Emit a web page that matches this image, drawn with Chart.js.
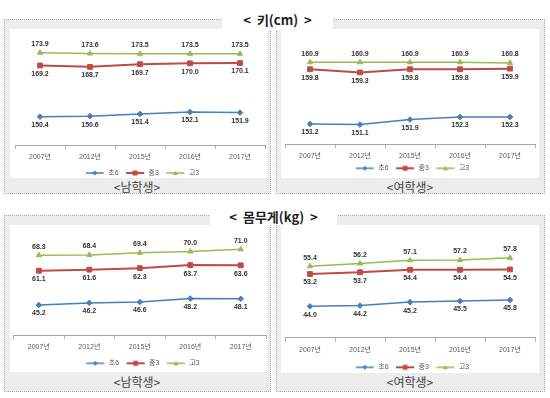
<!DOCTYPE html>
<html>
<head>
<meta charset="utf-8">
<script src="https://cdn.jsdelivr.net/npm/chart.js@4.4.0/dist/chart.umd.min.js"></script>
<style>
body{margin:0;width:550px;height:398px;background:#fff;position:relative;overflow:hidden;font-family:"Noto Sans CJK KR",sans-serif;}
.panel{position:absolute;box-sizing:border-box;border:1px dotted #a9a9a9;background:#ededed;}
.inner{position:absolute;background:#fff;}
.cap{position:absolute;width:200px;text-align:center;font-size:12px;line-height:14px;color:#404040;}
.title{position:absolute;background:#fff;text-align:center;font-weight:bold;font-size:13px;color:#222;}
canvas{position:absolute;}
</style>
</head>
<body>
<!-- panels -->
<div class="panel" style="left:4px;top:19px;width:267px;height:175px"></div>
<div class="inner" style="left:10px;top:29px;width:258px;height:149px"></div>
<div class="cap" style="left:37px;top:180px">&lt;남학생&gt;</div>

<div class="panel" style="left:276px;top:19px;width:269px;height:175px"></div>
<div class="inner" style="left:281px;top:29px;width:258px;height:149px"></div>
<div class="cap" style="left:310px;top:180px">&lt;여학생&gt;</div>

<div class="panel" style="left:4px;top:215px;width:267px;height:177px"></div>
<div class="inner" style="left:10px;top:225px;width:258px;height:147px"></div>
<div class="cap" style="left:37px;top:375px">&lt;남학생&gt;</div>

<div class="panel" style="left:276px;top:215px;width:269px;height:177px"></div>
<div class="inner" style="left:281px;top:225px;width:258px;height:148px"></div>
<div class="cap" style="left:310px;top:375px">&lt;여학생&gt;</div>

<div class="title" style="left:222px;top:8px;width:111px;height:22px;line-height:24px">&lt;&nbsp; 키(cm)&nbsp; &gt;</div>
<div class="title" style="left:210px;top:205px;width:127px;height:20px;line-height:24px">&lt;&nbsp; 몸무게(kg)&nbsp; &gt;</div>

<canvas id="c1" width="267" height="175" style="left:4px;top:19px"></canvas>
<canvas id="c2" width="269" height="175" style="left:276px;top:19px"></canvas>
<canvas id="c3" width="267" height="177" style="left:4px;top:215px"></canvas>
<canvas id="c4" width="269" height="177" style="left:276px;top:215px"></canvas>

<script>
// ---- data ----
const years = ['2007년', '2012년', '2015년', '2016년', '2017년'];
const seriesNames = ['초6', '중3', '고3'];

const boysHeightElem = [150.4, 150.6, 151.4, 152.1, 151.9];
const boysHeightMid = [169.2, 168.7, 169.7, 170.0, 170.1];
const boysHeightHigh = [173.9, 173.6, 173.5, 173.5, 173.5];

const girlsHeightElem = [151.2, 151.1, 151.9, 152.3, 152.3];
const girlsHeightMid = [159.8, 159.3, 159.8, 159.8, 159.9];
const girlsHeightHigh = [160.9, 160.9, 160.9, 160.9, 160.8];

const boysWeightElem = [45.2, 46.2, 46.6, 48.2, 48.1];
const boysWeightMid = [61.1, 61.6, 62.3, 63.7, 63.6];
const boysWeightHigh = [68.3, 68.4, 69.4, 70.0, 71.0];

const girlsWeightElem = [44.0, 44.2, 45.2, 45.5, 45.8];
const girlsWeightMid = [53.2, 53.7, 54.4, 54.4, 54.5];
const girlsWeightHigh = [55.4, 56.2, 57.1, 57.2, 57.8];

// ---- styles ----
const colors = ['#4a7ebb', '#be4b48', '#98b954'];
const markers = ['rectRot', 'rect', 'triangle'];
const markerSize = [2.8, 3.4, 3];
const lineWidths = [1.5, 2, 1.5];
const labelSide = ['below', 'below', 'above'];
const numFont = '"Liberation Sans", "Noto Sans CJK KR", sans-serif';

// small legend icon: line with marker in the middle
function legendIcon(i) {
    const c = document.createElement('canvas');
    c.width = 24;
    c.height = 8;
    const g = c.getContext('2d');
    g.strokeStyle = colors[i];
    g.fillStyle = colors[i];
    g.lineWidth = lineWidths[i];
    g.beginPath();
    g.moveTo(5, 4);
    g.lineTo(23, 4);
    g.stroke();
    g.beginPath();
    if (i === 0) {
        g.moveTo(14, 1.5); g.lineTo(16.5, 4); g.lineTo(14, 6.5); g.lineTo(11.5, 4);
    } else if (i === 1) {
        g.rect(11.5, 1.5, 5, 5);
    } else {
        g.moveTo(14, 1.5); g.lineTo(16.5, 6); g.lineTo(11.5, 6);
    }
    g.closePath();
    g.fill();
    return c;
}

// value labels above / below the points
const valueLabels = {
    id: 'valueLabels',
    afterDatasetsDraw(chart) {
        const ctx = chart.ctx;
        ctx.save();
        ctx.font = 'bold 7px ' + numFont;
        ctx.fillStyle = '#333';
        ctx.textAlign = 'center';
        ctx.textBaseline = 'middle';
        chart.data.datasets.forEach((ds, i) => {
            const meta = chart.getDatasetMeta(i);
            const dy = ds.labelSide === 'above' ? -8.5 : 8.5;
            meta.data.forEach((pt, j) => {
                ctx.fillText(ds.data[j].toFixed(1), pt.x, pt.y + dy);
            });
        });
        ctx.restore();
    }
};

// box: canvas rect, area: wanted chart area (page coords)
function makeChart(id, box, area, yMin, yMax, seriesList) {
    const legendPad = 2.5;
    const legendH = 7 + legendPad + 10;
    const ctx = document.getElementById(id).getContext('2d');
    return new Chart(ctx, {
        type: 'line',
        data: {
            labels: years,
            datasets: seriesList.map((vals, i) => ({
                label: seriesNames[i],
                data: vals,
                borderColor: colors[i],
                backgroundColor: colors[i],
                borderWidth: lineWidths[i],
                pointStyle: markers[i],
                pointRadius: markerSize[i],
                pointBorderWidth: 1,
                tension: 0,
                labelSide: labelSide[i]
            }))
        },
        options: {
            responsive: false,
            animation: false,
            devicePixelRatio: 1,
            layout: {
                padding: {
                    left: area.x0 - box.left,
                    right: box.left + box.w - area.x1,
                    top: area.top - box.top,
                    bottom: box.top + box.h - area.axis - area.xH - legendH
                }
            },
            scales: {
                x: {
                    offset: true,
                    grid: {display: true, offset: true, drawOnChartArea: false, drawTicks: true, tickLength: 4, color: '#b5b5b5'},
                    border: {display: true, color: '#a6a6a6', width: 1},
                    ticks: {font: {size: 7, family: numFont}, color: '#595959', padding: 4, maxRotation: 0},
                    afterFit: s => { s.height = area.xH; }
                },
                y: {display: false, min: yMin, max: yMax}
            },
            plugins: {
                tooltip: {enabled: false},
                legend: {
                    position: 'bottom',
                    labels: {
                        usePointStyle: true,
                        pointStyleWidth: 24,
                        padding: legendPad,
                        color: '#595959',
                        font: {size: 7, family: numFont},
                        generateLabels: chart => {
                            const items = Chart.defaults.plugins.legend.labels.generateLabels(chart);
                            items.forEach((it, i) => { it.pointStyle = legendIcon(i); });
                            return items;
                        }
                    }
                }
            }
        },
        plugins: [valueLabels]
    });
}

makeChart('c1', {left: 4, top: 19, w: 267, h: 175},
    {x0: 15, x1: 265, top: 36.1, axis: 145, xH: 22},
    140, 180, [boysHeightElem, boysHeightMid, boysHeightHigh]);

makeChart('c2', {left: 276, top: 19, w: 269, h: 175},
    {x0: 285, x1: 535, top: 36.2, axis: 144.3, xH: 18},
    148, 165, [girlsHeightElem, girlsHeightMid, girlsHeightHigh]);

makeChart('c3', {left: 4, top: 215, w: 267, h: 177},
    {x0: 13.6, x1: 267.4, top: 229.9, axis: 335.3, xH: 22},
    31.2, 80, [boysWeightElem, boysWeightMid, boysWeightHigh]);

makeChart('c4', {left: 276, top: 215, w: 269, h: 177},
    {x0: 285, x1: 535, top: 232.6, axis: 337.9, xH: 23.4},
    35, 65, [girlsWeightElem, girlsWeightMid, girlsWeightHigh]);
</script>
</body>
</html>
